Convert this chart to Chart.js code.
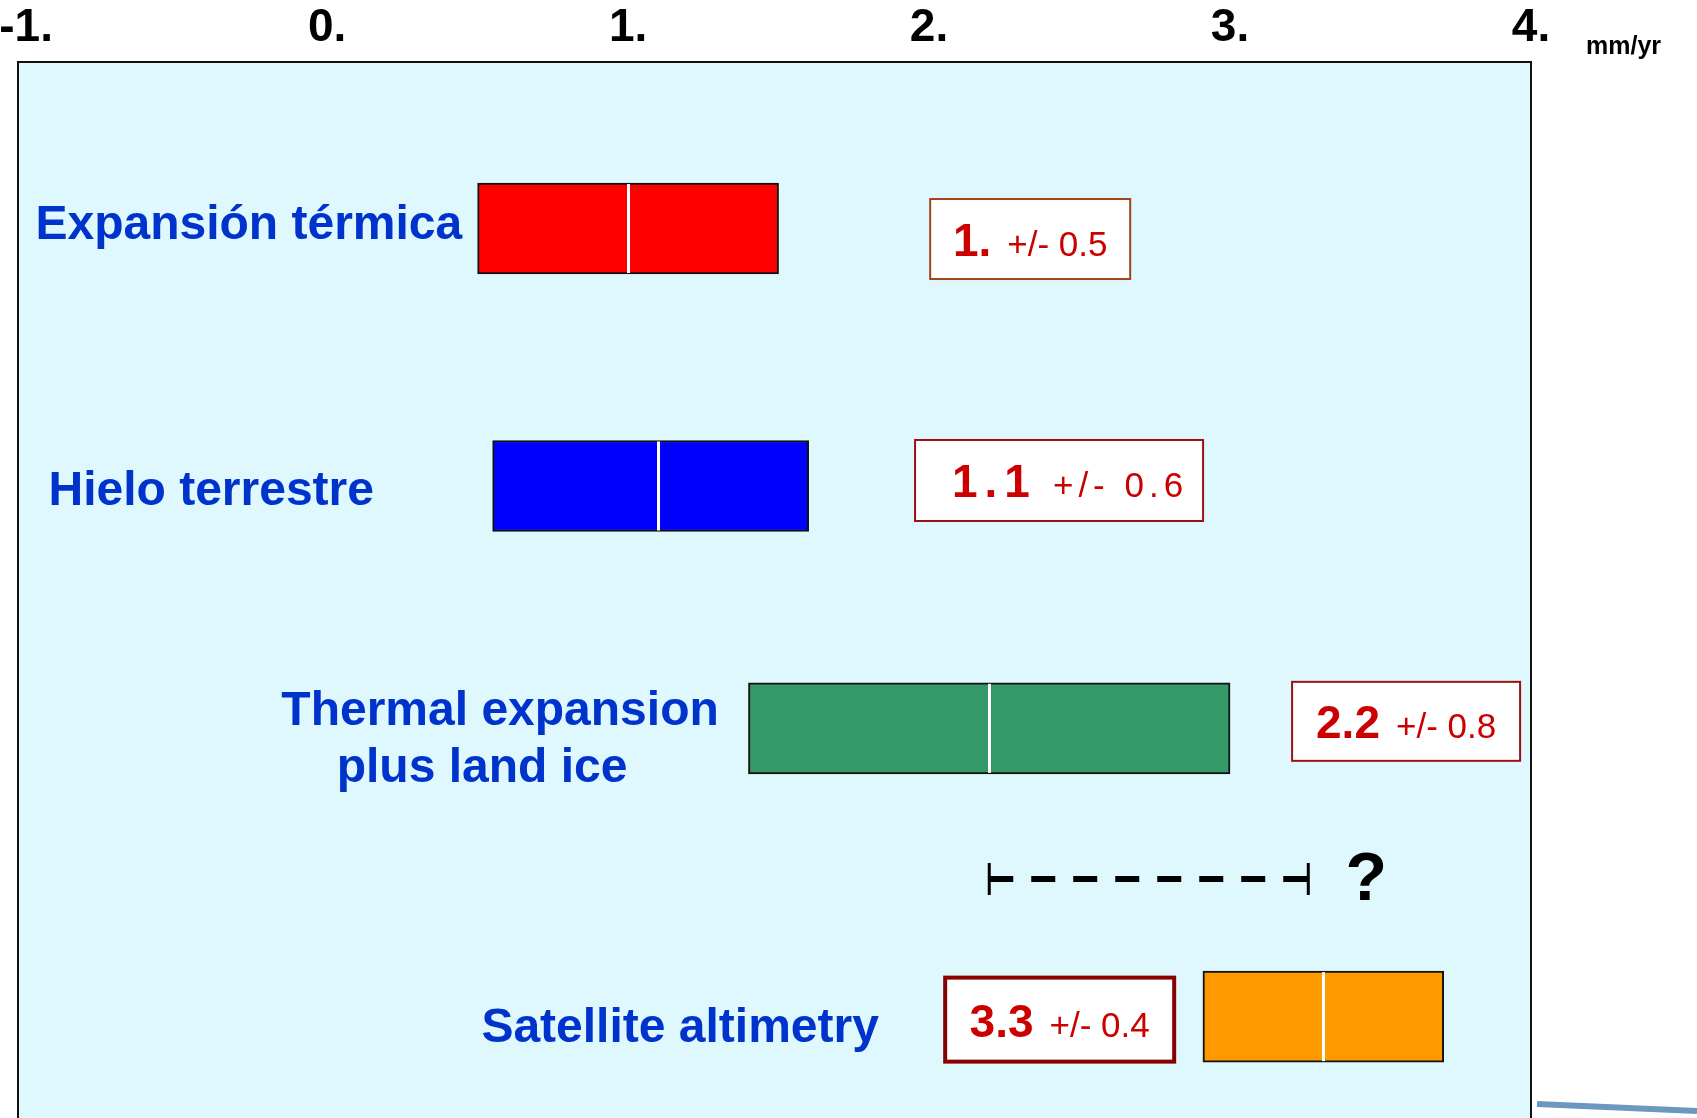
<!DOCTYPE html>
<html>
<head>
<meta charset="utf-8">
<script src="https://cdn.jsdelivr.net/npm/chart.js@4.4.1/dist/chart.umd.min.js"></script>
<style>
  html, body { margin: 0; padding: 0; background: #fff; }
  #wrap { width: 1697px; height: 1118px; position: relative; }
</style>
</head>
<body>
<div id="wrap"><canvas id="chart"></canvas></div>
<script>
// data
const CATEGORIES = ['Expansión térmica', 'Hielo terrestre', ['Thermal expansion', 'plus land ice'], 'Satellite altimetry'];
const BAR_LOW = [0.5, 0.55, 1.4, 2.91];
const BAR_HIGH = [1.5, 1.6, 3.0, 3.71];
const BAR_MID = [1.0, 1.1, 2.2, 3.31];
const VALUE_LABELS = ['1.', '1.1', '2.2', '3.3'];
const ERROR_LABELS = ['+/- 0.5', '+/- 0.6', '+/- 0.8', '+/- 0.4'];
const GAP_RANGE = [2.2, 3.26];
const GAP_LABEL = '?';
const X_TICKS = [-1, 0, 1, 2, 3, 4];
const X_TICK_LABELS = ['-1.', '0.', '1.', '2.', '3.', '4.'];
const X_UNIT = 'mm/yr';

// layout / styling
const ROW_Y = [15.77, 40.15, 63.1, 90.4];   // row centres on a 0-100 vertical scale
const GAP_Y = 77.37;
const BAR_COLORS = ['#ff0000', '#0000ff', '#339966', '#ff9900'];
const LABEL_X = [-0.26, -0.385, 0.558, 1.173];
const LABEL_DY = [-3, 6, 12, 12];
const LINE_DX = [5, -13];
const BOX_X = [2.336, 2.432, 3.585, 2.434];
const BOX_DY = [10.5, -5.5, -7, 3];
const BOX_TEXT_DX = [0, 11, 0, 0];
const BOX_SIZE = [[200, 80], [288, 81], [228, 79], [229, 84]];
const BOX_BORDER = ['#a0441c', '#9b1111', '#9b1111', '#880000'];
const BOX_LINE = [2, 2, 2, 4];
const BOX_SPACING = [[0, 0], [7, 5], [0, 0], [0, 0]];
const FONT = 'Arial, "Liberation Sans", Helvetica, sans-serif';

const slide = {
  id: 'slide',
  beforeDraw(chart) {
    const { ctx, chartArea: a } = chart;
    ctx.save();
    ctx.fillStyle = '#dff8fe';
    ctx.fillRect(a.left, a.top, a.right - a.left, a.bottom - a.top);
    ctx.strokeStyle = '#111';
    ctx.lineWidth = 2;
    ctx.beginPath();
    ctx.moveTo(a.left, a.bottom + 5);
    ctx.lineTo(a.left, a.top);
    ctx.lineTo(a.right, a.top);
    ctx.lineTo(a.right, a.bottom + 5);
    ctx.stroke();
    ctx.restore();
  },
  afterDatasetsDraw(chart) {
    const { ctx, scales: { x, y } } = chart;
    const bars = chart.getDatasetMeta(0).data;
    ctx.save();

    // white centre line in each bar
    ctx.strokeStyle = '#fff';
    ctx.lineWidth = 3;
    bars.forEach((b, i) => {
      const px = Math.round(x.getPixelForValue(BAR_MID[i])) + 0.5;
      ctx.beginPath();
      ctx.moveTo(px, b.y - b.height / 2 + 1);
      ctx.lineTo(px, b.y + b.height / 2 - 1);
      ctx.stroke();
    });

    // row labels
    ctx.fillStyle = '#0033cc';
    ctx.font = 'bold 48px ' + FONT;
    ctx.textAlign = 'center';
    ctx.textBaseline = 'middle';
    CATEGORIES.forEach((c, i) => {
      const lines = Array.isArray(c) ? c : [c];
      const cx = x.getPixelForValue(LABEL_X[i]);
      const cy = y.getPixelForValue(ROW_Y[i]) + LABEL_DY[i];
      lines.forEach((t, k) => {
        const dx = lines.length > 1 ? LINE_DX[k] : 0;
        ctx.fillText(t, cx + dx, cy + (k - (lines.length - 1) / 2) * 57);
      });
    });

    // value boxes
    VALUE_LABELS.forEach((v, i) => {
      const cx = x.getPixelForValue(BOX_X[i]);
      const cy = y.getPixelForValue(ROW_Y[i]) + BOX_DY[i];
      const [w, h] = BOX_SIZE[i];
      ctx.fillStyle = '#fff';
      ctx.fillRect(cx - w / 2, cy - h / 2, w, h);
      ctx.strokeStyle = BOX_BORDER[i];
      ctx.lineWidth = BOX_LINE[i];
      ctx.strokeRect(cx - w / 2, cy - h / 2, w, h);

      ctx.textAlign = 'left';
      ctx.textBaseline = 'alphabetic';
      ctx.fillStyle = '#cc0000';
      ctx.font = 'bold 46px ' + FONT;
      ctx.letterSpacing = BOX_SPACING[i][0] + 'px';
      const w1 = ctx.measureText(v).width;
      ctx.font = '35px ' + FONT;
      ctx.letterSpacing = BOX_SPACING[i][1] + 'px';
      const w2 = ctx.measureText(ERROR_LABELS[i]).width;
      const gap = 16;
      const x0 = cx - (w1 + gap + w2) / 2 + BOX_TEXT_DX[i];
      const base = cy + 17;
      ctx.font = 'bold 46px ' + FONT;
      ctx.letterSpacing = BOX_SPACING[i][0] + 'px';
      ctx.fillText(v, x0, base);
      ctx.font = '35px ' + FONT;
      ctx.letterSpacing = BOX_SPACING[i][1] + 'px';
      ctx.fillText(ERROR_LABELS[i], x0 + w1 + gap, base);
      ctx.letterSpacing = '0px';
    });

    // question mark after the gap line
    ctx.fillStyle = '#000';
    ctx.font = 'bold 68px ' + FONT;
    ctx.textAlign = 'center';
    ctx.textBaseline = 'middle';
    ctx.fillText(GAP_LABEL, x.getPixelForValue(GAP_RANGE[1]) + 58, y.getPixelForValue(GAP_Y) + 2);
    ctx.restore();
  },
  afterDraw(chart) {
    const { ctx, scales: { x }, chartArea: a } = chart;
    ctx.save();
    ctx.fillStyle = '#000';
    ctx.font = 'bold 25px ' + FONT;
    ctx.textAlign = 'left';
    ctx.textBaseline = 'alphabetic';
    ctx.fillText(X_UNIT, a.right + 55, x.bottom - 8);
    // slide decoration, bottom right
    ctx.strokeStyle = '#6b98c0';
    ctx.lineWidth = 6;
    ctx.beginPath();
    ctx.moveTo(a.right + 6, chart.height - 14);
    ctx.lineTo(chart.width, chart.height - 7);
    ctx.stroke();
    ctx.restore();
  }
};

new Chart(document.getElementById('chart'), {
  data: {
    datasets: [
      {
        type: 'bar',
        indexAxis: 'y',
        data: CATEGORIES.map((c, i) => ({ y: ROW_Y[i], x: [BAR_LOW[i], BAR_HIGH[i]] })),
        backgroundColor: BAR_COLORS,
        borderColor: '#111',
        borderWidth: 2,
        borderSkipped: false,
        barThickness: 91,
      },
      {
        type: 'line',
        indexAxis: 'y',
        data: GAP_RANGE.map(v => ({ x: v, y: GAP_Y })),
        borderColor: '#000',
        borderWidth: 6,
        borderDash: [24, 18],
        borderCapStyle: 'butt',
        pointStyle: 'line',
        pointRotation: 90,
        pointRadius: 16,
        pointBorderWidth: 3,
        pointBorderColor: '#000',
        fill: false,
      },
    ],
  },
  options: {
    indexAxis: 'y',
    responsive: true,
    maintainAspectRatio: false,
    animation: false,
    layout: { autoPadding: false, padding: { left: 18, right: 166, top: 0, bottom: 0 } },
    plugins: { legend: { display: false }, tooltip: { enabled: false } },
    scales: {
      x: {
        type: 'linear',
        position: 'top',
        min: -1.027,
        max: 4,
        offset: false,
        grid: { display: false, drawTicks: false },
        border: { display: false },
        afterBuildTicks: s => { s.ticks = X_TICKS.map(v => ({ value: v })); },
        afterFit: s => { s.height = 62; s.paddingLeft = 0; s.paddingRight = 0; },
        ticks: {
          color: '#000',
          padding: 6,
          maxRotation: 0,
          autoSkip: false,
          font: { family: FONT, size: 46, weight: 'bold' },
          callback: (v, i) => X_TICK_LABELS[i],
        },
      },
      y: { type: 'linear', display: false, offset: false, min: 0, max: 100, reverse: true },
    },
  },
  plugins: [slide],
});
</script>
</body>
</html>
